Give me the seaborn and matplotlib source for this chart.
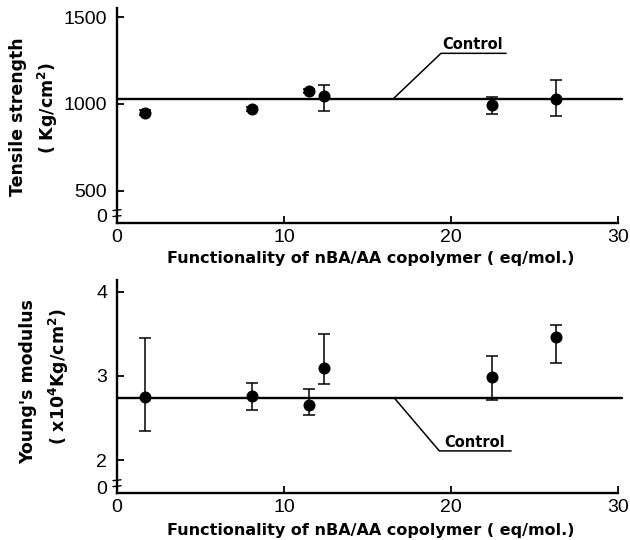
import numpy as np
import pandas as pd
import matplotlib
matplotlib.use("Agg")
import matplotlib.pyplot as plt
import seaborn as sns

# ---- data ----
functionality = [1.7, 8.1, 11.5, 12.4, 22.45, 26.3]
tensile = [948, 971, 1075, 1045, 995, 1030]
tensile_low = [933, 959, 1063, 960, 940, 930]
tensile_high = [963, 983, 1087, 1110, 1040, 1140]
tensile_control = 1030

modulus = [2.75, 2.76, 2.66, 3.10, 2.99, 3.46]
modulus_low = [2.35, 2.60, 2.54, 2.90, 2.71, 3.15]
modulus_high = [3.45, 2.92, 2.85, 3.50, 3.24, 3.60]
modulus_control = 2.74

x_ticks = [0, 10, 20, 30]
tensile_ticks = [355, 500, 1000, 1500]
tensile_ticklabels = ["0", "500", "1000", "1500"]
modulus_ticks = [1.675, 2, 3, 4]
modulus_ticklabels = ["0", "2", "3", "4"]
xlabel = "Functionality of nBA/AA copolymer ( eq/mol.)"

sns.set_theme(style="ticks")
plt.rcParams["font.family"] = ["Liberation Sans", "DejaVu Sans"]
plt.rcParams["mathtext.fontset"] = "dejavusans"
plt.rcParams["text.color"] = "black"
plt.rcParams["axes.labelcolor"] = "black"
plt.rcParams["xtick.color"] = "black"
plt.rcParams["ytick.color"] = "black"

BOLD = ["DejaVu Sans"]

W, H = 630, 540
fig = plt.figure(figsize=(W / 100, H / 100), dpi=100)
fig.patch.set_facecolor("white")


def px_axes(left, right, top, bottom):
    return fig.add_axes([left / W, 1 - bottom / H, (right - left) / W, (bottom - top) / H])


ax1 = px_axes(117, 618, 8, 223)
ax2 = px_axes(117, 618, 280, 493)

df1 = pd.DataFrame({"x": functionality, "y": tensile, "lo": tensile_low, "hi": tensile_high})
df2 = pd.DataFrame({"x": functionality, "y": modulus, "lo": modulus_low, "hi": modulus_high})


def draw(ax, df, control, ylim, ticks, ticklabels, ctrl_text, ctrl_under, ctrl_tip):
    ax.axhline(control, xmin=0, xmax=1.008, color="black", lw=1.7, zorder=1, clip_on=False)
    ax.errorbar(df["x"], df["y"],
                yerr=[df["y"] - df["lo"], df["hi"] - df["y"]],
                fmt="none", ecolor="black", elinewidth=1.1, capsize=4, capthick=1.1, zorder=2)
    sns.scatterplot(data=df, x="x", y="y", ax=ax, color="black", s=75,
                    edgecolor="black", linewidth=0, zorder=3, legend=False)
    ax.set_xlim(0, 30)
    ax.set_ylim(*ylim)
    ax.set_xticks(x_ticks)
    ax.set_xticklabels([str(t) for t in x_ticks])
    ax.set_yticks(ticks)
    ax.set_yticklabels(ticklabels)
    ax.yaxis.get_major_ticks()[0].tick1line.set_visible(False)
    for s in ["top", "right"]:
        ax.spines[s].set_visible(False)
    for s in ["left", "bottom"]:
        ax.spines[s].set_linewidth(1.7)
        ax.spines[s].set_color("black")
    ax.tick_params(direction="in", length=5, width=1.3, colors="black",
                   labelcolor="black", labelsize=14)
    ax.tick_params(axis="y", pad=7)
    ax.tick_params(axis="x", pad=4)
    ax.set_xlabel("")
    ax.set_ylabel("")
    ax.grid(False)
    # Control annotation
    (tx, ty), (ux0, ux1, uy), (cx, cy) = ctrl_text, ctrl_under, ctrl_tip
    ax.plot([cx, ux0, ux1], [cy, uy, uy], color="black", lw=1.1, clip_on=False)
    ax.text(tx, ty, "Control", fontsize=10.5, fontweight="bold", family=BOLD,
            ha="center", va="bottom", color="black")
    # axis break marks
    for dy in (0.03, 0.058):
        ax.plot([-0.008, 0.008], [dy, dy + 0.004],
                transform=ax.transAxes, color="black", lw=1.0, clip_on=False)


draw(ax1, df1, tensile_control, (314, 1552), tensile_ticks, tensile_ticklabels,
     (21.3, 1298), (19.4, 23.3, 1291), (16.55, tensile_control))
draw(ax2, df2, modulus_control, (1.61, 4.14), modulus_ticks, modulus_ticklabels,
     (21.4, 2.125), (19.3, 23.6, 2.11), (16.6, modulus_control))

fig.text(371 / W, 1 - 259 / H, xlabel, ha="center", va="center", color="black",
         fontsize=11.5, fontweight="bold", family=BOLD)
fig.text(371 / W, 1 - 531 / H, xlabel, ha="center", va="center", color="black",
         fontsize=11.5, fontweight="bold", family=BOLD)

fig.text(18 / W, 1 - 117 / H, "Tensile strength", rotation=90, ha="center", color="black",
         va="center", fontsize=12.5, fontweight="bold", family=BOLD)
fig.text(48 / W, 1 - 108 / H, r"( Kg/cm$^{\mathbf{2}}$)", rotation=90, ha="center",
         color="black", va="center", fontsize=12.5, fontweight="bold", family=BOLD)
fig.text(28 / W, 1 - 382 / H, "Young's modulus", rotation=90, ha="center", color="black",
         va="center", fontsize=12.5, fontweight="bold", family=BOLD)
fig.text(59 / W, 1 - 377 / H, r"( x10$^{\mathbf{4}}$Kg/cm$^{\mathbf{2}}$)", rotation=90,
         color="black", ha="center", va="center", fontsize=12.5, fontweight="bold",
         family=BOLD)

fig.savefig("out.png", dpi=100, facecolor="white")
